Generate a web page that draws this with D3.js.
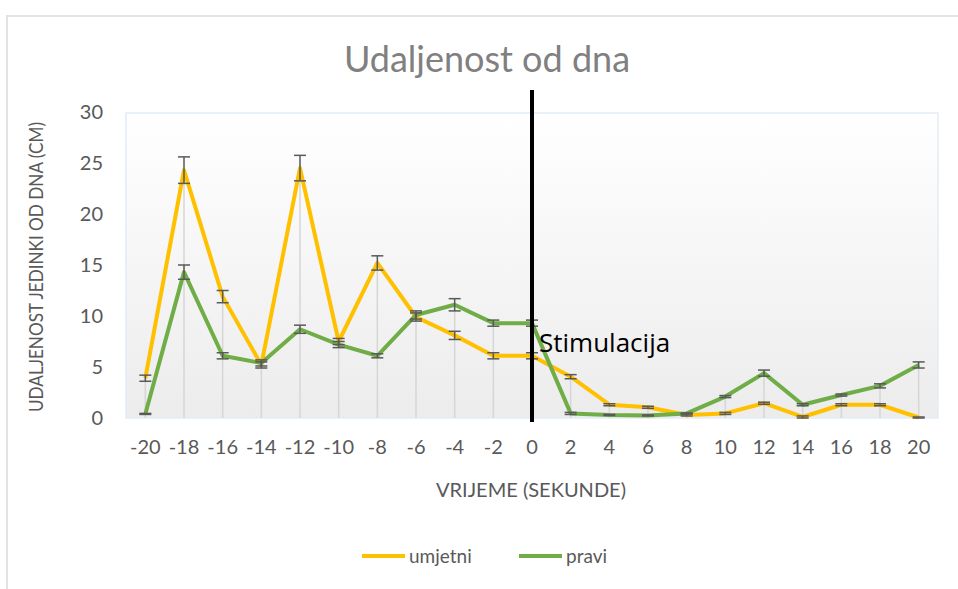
<!DOCTYPE html>
<html>
<head>
<meta charset="utf-8">
<script src="https://cdn.jsdelivr.net/npm/d3@7"></script>
<style>
  html, body { margin: 0; padding: 0; background: #fff; }
  svg { display: block; }
  text { font-family: "Lato", sans-serif; }
</style>
</head>
<body>
<svg id="chart" width="958" height="589"></svg>
<script>
// ---- data ----
const categories = [-20,-18,-16,-14,-12,-10,-8,-6,-4,-2,0,2,4,6,8,10,12,14,16,18,20];
const umjetni    = [3.9,24.3,11.9,5.2,24.5,7.5,15.2,9.9,8.1,6.1,6.1,4.05,1.3,1.05,0.3,0.45,1.45,0.1,1.3,1.3,0.05];
const umjetniErr = [0.3,1.3,0.6,0.3,1.25,0.3,0.7,0.4,0.4,0.3,0.3,0.2,0.1,0.1,0.1,0.1,0.1,0.1,0.1,0.1,0.05];
const pravi      = [0.4,14.3,6.1,5.4,8.7,7.2,6.1,10.1,11.1,9.3,9.3,0.45,0.3,0.25,0.45,2.1,4.4,1.3,2.25,3.15,5.2];
const praviErr   = [0.05,0.7,0.3,0.3,0.4,0.3,0.2,0.4,0.6,0.3,0.3,0.1,0.05,0.05,0.05,0.1,0.3,0.1,0.1,0.2,0.3];
const yTicks = [0,5,10,15,20,25,30];
const seriesNames = ["umjetni","pravi"];
const seriesColors = ["#FFC000","#70AD47"];
const titleText = "Udaljenost od dna";
const xTitle = "VRIJEME (SEKUNDE)";
const yTitle = "UDALJENOST JEDINKI OD DNA (CM)";
const markerLabel = "Stimulacija";
const markerAt = 0;

const svg = d3.select("#chart");

// outer chart border
svg.append("path").attr("d","M7,589 V16 H958").attr("fill","none")
  .attr("stroke","#e3e3e3").attr("stroke-width",2);

const plot = {left:126, right:938, top:113, bottom:418};
const x = d3.scaleBand().domain(categories.map(String)).range([plot.left, plot.right]).padding(0);
const y = d3.scaleLinear().domain([0,30]).range([plot.bottom, 112]);
const cx = d => x(String(d)) + x.bandwidth()/2;

// background gradient
const defs = svg.append("defs");
const grad = defs.append("linearGradient").attr("id","bg").attr("x1",0).attr("y1",0).attr("x2",0).attr("y2",1);
grad.append("stop").attr("offset","0%").attr("stop-color","#ffffff");
grad.append("stop").attr("offset","100%").attr("stop-color","#ececec");
svg.append("rect").attr("x",plot.left).attr("y",plot.top)
  .attr("width",plot.right-plot.left).attr("height",plot.bottom-plot.top)
  .attr("fill","url(#bg)").attr("stroke","#e4ecf6").attr("stroke-width",1.5);

// drop lines
const series = [umjetni, pravi];
const errs = [umjetniErr, praviErr];
categories.forEach((c,i) => {
  const top = Math.max(umjetni[i], pravi[i]);
  svg.append("line").attr("x1",cx(c)).attr("x2",cx(c))
    .attr("y1",y(top)).attr("y2",y(0))
    .attr("stroke","#d6d6d6").attr("stroke-width",1.5);
});

// y axis tick labels
const yAxis = d3.axisLeft(y).tickValues(yTicks).tickSize(0).tickPadding(0);
const gy = svg.append("g").attr("transform",`translate(103,0)`).call(yAxis);
gy.select(".domain").remove();
gy.selectAll("text").attr("fill","#595959").style("font-size","20px")
  .style("font-family",'"Lato", sans-serif');

// x axis labels
const xAxis = d3.axisBottom(x).tickSize(0).tickPadding(0);
const gx = svg.append("g").attr("transform",`translate(0,440)`).call(xAxis);
gx.select(".domain").remove();
gx.selectAll("text").attr("fill","#595959").style("font-size","20px")
  .style("font-family",'"Lato", sans-serif');

// lines
const line = d3.line().x((d,i)=>cx(categories[i])).y(d=>y(d));
series.forEach((s,k) => {
  svg.append("path").datum(s).attr("d",line).attr("fill","none")
    .attr("stroke",seriesColors[k]).attr("stroke-width",4).attr("stroke-linejoin","round");
});

// error bars
series.forEach((s,k) => {
  s.forEach((v,i) => {
    const e = errs[k][i];
    const X = cx(categories[i]);
    const g = svg.append("g").attr("stroke","#595959").attr("stroke-width",1.5);
    g.append("line").attr("x1",X).attr("x2",X).attr("y1",y(v+e)).attr("y2",y(Math.max(0,v-e)));
    g.append("line").attr("x1",X-6).attr("x2",X+6).attr("y1",y(v+e)).attr("y2",y(v+e));
    g.append("line").attr("x1",X-6).attr("x2",X+6).attr("y1",y(Math.max(0,v-e))).attr("y2",y(Math.max(0,v-e)));
  });
});

// stimulation marker
svg.append("line").attr("x1",cx(markerAt)).attr("x2",cx(markerAt))
  .attr("y1",90).attr("y2",422).attr("stroke","#000").attr("stroke-width",4);
svg.append("text").attr("x",cx(markerAt)+7).attr("y",352)
  .text(markerLabel).attr("fill","#000").style("font-size","26px")
  .style("font-family",'"Open Sans", sans-serif');

// title
svg.append("text").attr("x",487).attr("y",72).attr("text-anchor","middle")
  .text(titleText).attr("fill","#808080").style("font-size","36px");

// axis titles
svg.append("text").attr("x",531).attr("y",497).attr("text-anchor","middle")
  .text(xTitle).attr("fill","#595959").style("font-size","20px");
svg.append("text").attr("transform","translate(43,267) rotate(-90)").attr("text-anchor","middle")
  .text(yTitle).attr("fill","#595959").style("font-size","19px")
  .attr("textLength",290).attr("lengthAdjust","spacingAndGlyphs");

// legend
const legendItems = [{x:362, name:seriesNames[0], color:seriesColors[0]},{x:519, name:seriesNames[1], color:seriesColors[1]}];
legendItems.forEach(it => {
  svg.append("line").attr("x1",it.x).attr("x2",it.x+43).attr("y1",556).attr("y2",556)
    .attr("stroke",it.color).attr("stroke-width",4);
  svg.append("text").attr("x",it.x+47).attr("y",563).text(it.name)
    .attr("fill","#595959").style("font-size","19px");
});
</script>
</body>
</html>
